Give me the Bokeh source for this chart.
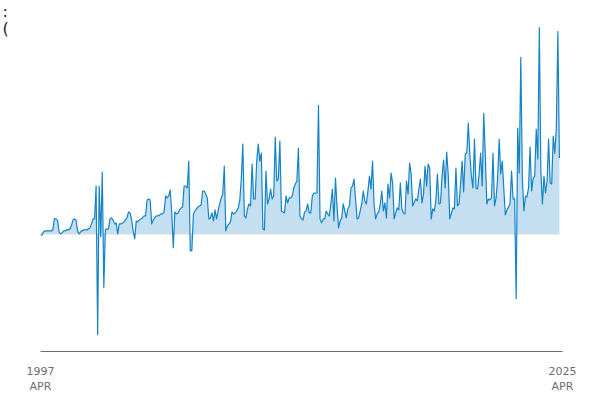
from bokeh.plotting import figure
from bokeh.models import Range1d, FixedTicker
from bokeh.embed import file_html
from bokeh.resources import INLINE

# Monthly series, 1997 APR .. 2025 APR (337 months)
values = [
    -1, -1, 2, 3, 3, 3, 3, 3, 4, 15, 15, 14, 2, 0, 1, 3, 3, 4, 4, 5,
    8, 14, 15, 14, 3, 0, 2, 3, 4, 4, 4, 5, 6, 10, 15, 15, 48, -101, 48, -3,
    62, -54, 4, 5, 5, 15, 16, 14, 10, 11, 0, 10, 10, 11, 12, 14,
    16, 22, 21, 14, 3, -5, 13, 12, 14, 15,
    16, 18, 18, 34, 35, 34, 10, 14, 16, 18,
    18, 19, 20, 20, 22, 38, 36, 38, 44, 21,
    -14, 22, 20, 21, 24, 26, 27, 48, 48, 46,
    73, -17, -17, 20, 23, 25, 27, 28, 29, 43,
    43, 40, 36, 15, 16, 21, 13,
    24, 15, 23, 30, 36, 40, 68, 3, 8, 10,
    12, 22, 20, 21, 23, 26, 33, 55, 90, 18,
    16, 25, 30, 28, 70, 35, 35, 73, 90, 73,
    81, 5, 4, 63, 30, 35, 45, 35, 38, 97,
    53, 55, 93, 23, 22, 21, 38, 31, 36, 36,
    38, 46, 50, 53, 86, 18,
    15, 14, 22, 23, 30, 21, 21, 38, 41, 41,
    41, 129, 15, 11, 15, 15, 23, 20, 18, 30,
    45, 13, 56, 28, 6, 13, 16, 30, 23, 16,
    25, 28, 46, 48, 55, 35, 15, 16, 23, 30,
    43, 33, 30, 43, 58, 45, 73, 30, 15, 20,
    22, 30, 43, 23, 31, 16, 50, 36,
    61, 51, 15, 21, 26, 24, 51, 25, 21, 20,
    53, 40, 71, 60, 28, 32, 35, 33, 45, 55,
    31, 40, 68, 48, 70, 66, 15, 25, 23, 33,
    60, 30, 31, 58, 74, 46, 82, 60, 15, 20,
    26, 25, 66, 28, 30, 50, 73, 42, 80, 81,
    111, 80, 58, 46, 95, 46, 45,
    60, 81, 48, 121, 80, 30, 35, 34, 36, 81,
    28, 36, 56, 95, 60, 73, 45, 19, 24, 27,
    30, 63, 35, 35, -65, 106, 61, 177, 56, 23,
    38, 37, 46, 87, 43, 56, 58, 105, 75, 207,
    63, 30, 58, 41, 53, 95, 51, 50, 98, 81,
    106, 203, 76,
]
months = list(range(len(values)))
zeros = [0] * len(values)

tick_months = [0, 338]
tick_labels = ["1997\nAPR", "2025\nAPR"]
title_text = ":\n("

p = figure(width=600, height=400, output_backend="svg", toolbar_location=None,
           x_range=Range1d(0, 338), y_range=Range1d(-118, 208),
           y_axis_location=None,
           min_border_left=40, min_border_right=38,
           min_border_top=26, min_border_bottom=49)
p.grid.visible = False
p.outline_line_color = None
p.background_fill_color = "white"

p.title.text = title_text
p.title.align = "left"
p.title.offset = -38
p.title.standoff = -23
p.title.text_font = "DejaVu Sans"
p.title.text_font_size = "16px"
p.title.text_font_style = "normal"
p.title.text_color = "#222222"
p.title.text_line_height = 0.9

p.varea(x=months, y1=zeros, y2=values, fill_color="#c3dff1", fill_alpha=1.0)
p.line([months[0], months[-1]], [0, 0], line_color="#d8d8d8", line_width=1.2)
p.line(months, values, line_color="#1584c7", line_width=1.2, line_join="round")

ax = p.xaxis[0]
ax.ticker = FixedTicker(ticks=tick_months)
ax.major_label_overrides = {m: lab for m, lab in zip(tick_months, tick_labels)}
ax.major_tick_line_color = None
ax.minor_tick_line_color = None
ax.axis_line_color = "#6e6e6e"
ax.axis_line_width = 1
ax.major_label_text_font = "DejaVu Sans"
ax.major_label_text_font_size = "11px"
ax.major_label_text_color = "#6e6e6e"
ax.major_label_text_line_height = 1.23
ax.major_label_standoff = 7

open("out.html", "w").write(file_html(p, INLINE))
